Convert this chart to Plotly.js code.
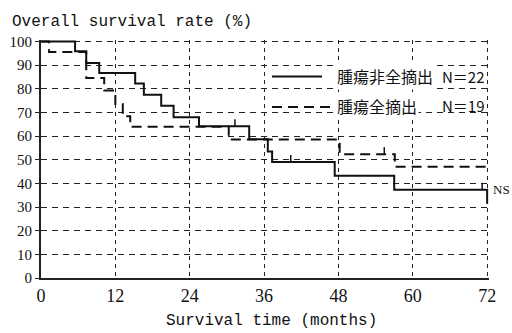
<!DOCTYPE html>
<html>
<head>
<meta charset="utf-8">
<script src="https://cdn.plot.ly/plotly-3.0.1.min.js"></script>
<style>html,body{margin:0;padding:0;background:#fff;}#chart{width:512px;height:333px;}</style>
</head>
<body>
<div id="chart"></div>
<script>
// Kaplan-Meier step points (months, survival %)
var partialMonths = [0, 5.5, 7.3, 9.4, 15.2, 16.6, 19.4, 21.4, 25.5, 33.6, 36.6, 37.3, 47.4, 57.0, 72];
var partialSurv   = [100, 95.8, 90.9, 86.6, 82.2, 77.5, 72.8, 68.0, 64.1, 58.7, 53.5, 49.0, 43.2, 37.3, 31.4];
var totalMonths   = [0, 1.3, 7.3, 10.2, 12.0, 13.2, 14.4, 30.3, 48.2, 57.1, 72];
var totalSurv     = [100, 95.5, 84.5, 79.3, 73.5, 68.4, 63.9, 58.5, 52.3, 47.0, 47.0];
// censored observations
var partialCensorMonths = [31.3, 40.3, 71.2];
var partialCensorSurv   = [64.1, 49.0, 37.3];
var totalCensorMonths   = [55.4];
var totalCensorSurv     = [52.3];
// labels
var seriesNames = ['腫瘍非全摘出', '腫瘍全摘出'];
var seriesN = ['N＝22', 'N＝19'];
var xTicks = [0, 12, 24, 36, 48, 60, 72];
var yTicks = [0, 10, 20, 30, 40, 50, 60, 70, 80, 90, 100];

var ink = '#111';
var censorBar = {type: 'constant', value: 3, symmetric: false, valueminus: 0, width: 0, thickness: 1.5, color: ink};

var traces = [
  {x: partialMonths, y: partialSurv, mode: 'lines', line: {shape: 'hv', color: ink, width: 2}, name: seriesNames[0], showlegend: false, hoverinfo: 'skip'},
  {x: totalMonths, y: totalSurv, mode: 'lines', line: {shape: 'hv', color: ink, width: 2, dash: '10px,6px'}, name: seriesNames[1], showlegend: false, hoverinfo: 'skip'},
  {x: partialCensorMonths, y: partialCensorSurv, mode: 'markers', marker: {size: 1, color: 'rgba(0,0,0,0)'}, error_y: censorBar, showlegend: false, hoverinfo: 'skip'},
  {x: totalCensorMonths, y: totalCensorSurv, mode: 'markers', marker: {size: 1, color: 'rgba(0,0,0,0)'}, error_y: censorBar, showlegend: false, hoverinfo: 'skip'}
];

var L = 41, R = 23, T = 40, B = 55, W = 512, H = 333;
var pw = W - L - R, ph = H - T - B;
function px2x(p) { return (p - L) / pw; }
function py2y(p) { return (H - B - p) / ph; }

var cjk = '"Noto Sans CJK JP", "Noto Sans CJK SC", sans-serif';
var layout = {
  width: W, height: H,
  margin: {l: L, r: R, t: T, b: B},
  paper_bgcolor: '#fff', plot_bgcolor: '#fff',
  title: {text: 'Overall survival rate (%)', font: {family: '"Liberation Mono", monospace', size: 16, color: ink},
          x: 12 / W, xanchor: 'left', xref: 'container', y: 1 - 20.5 / H, yanchor: 'middle', yref: 'container'},
  xaxis: {range: [0, 72.3], tickvals: xTicks, ticktext: xTicks.map(String), ticks: '',
          showline: true, linecolor: '#222', linewidth: 2, zeroline: false,
          showgrid: true, gridcolor: '#222', gridwidth: 1, griddash: '4px,4px',
          tickfont: {family: '"Liberation Serif", serif', size: 18, color: ink}, fixedrange: true},
  yaxis: {range: [0, 100.6], tickvals: yTicks, ticktext: yTicks.map(String), ticks: 'outside', ticklen: 4, tickcolor: '#222', tickwidth: 1,
          showline: true, linecolor: '#222', linewidth: 2, zeroline: false,
          showgrid: true, gridcolor: '#222', gridwidth: 1, griddash: '6px,5px',
          tickfont: {family: '"Liberation Serif", serif', size: 15, color: ink}, fixedrange: true},
  shapes: [
    {type: 'line', xref: 'paper', yref: 'paper', x0: px2x(272), x1: px2x(322), y0: py2y(76.5), y1: py2y(76.5), line: {color: ink, width: 2}},
    {type: 'line', xref: 'paper', yref: 'paper', x0: px2x(272), x1: px2x(330), y0: py2y(107), y1: py2y(107), line: {color: ink, width: 2, dash: '10px,6px'}}
  ],
  annotations: [
    {text: seriesNames[0], xref: 'paper', yref: 'paper', x: px2x(335), y: py2y(76), xanchor: 'left', yanchor: 'middle', showarrow: false, bgcolor: '#fff', font: {family: cjk, size: 16, color: ink}},
    {text: seriesN[0], xref: 'paper', yref: 'paper', x: px2x(487), y: py2y(76), xanchor: 'right', yanchor: 'middle', showarrow: false, font: {family: cjk, size: 15, color: ink}},
    {text: seriesNames[1], xref: 'paper', yref: 'paper', x: px2x(335), y: py2y(105.5), xanchor: 'left', yanchor: 'middle', showarrow: false, bgcolor: '#fff', font: {family: cjk, size: 16, color: ink}},
    {text: seriesN[1], xref: 'paper', yref: 'paper', x: px2x(487), y: py2y(105.5), xanchor: 'right', yanchor: 'middle', showarrow: false, font: {family: cjk, size: 15, color: ink}},
    {text: 'NS', xref: 'paper', yref: 'paper', x: px2x(511), y: py2y(189), xanchor: 'right', yanchor: 'middle', showarrow: false, borderpad: 0, font: {family: '"Liberation Serif", serif', size: 13, color: ink}},
    {text: 'Survival time (months)', xref: 'paper', yref: 'paper', x: px2x(271.5), y: py2y(321), xanchor: 'center', yanchor: 'middle', showarrow: false, font: {family: '"Liberation Mono", monospace', size: 16, color: ink}}
  ]
};

Plotly.newPlot('chart', traces, layout, {staticPlot: true, displayModeBar: false});
</script>
</body>
</html>
